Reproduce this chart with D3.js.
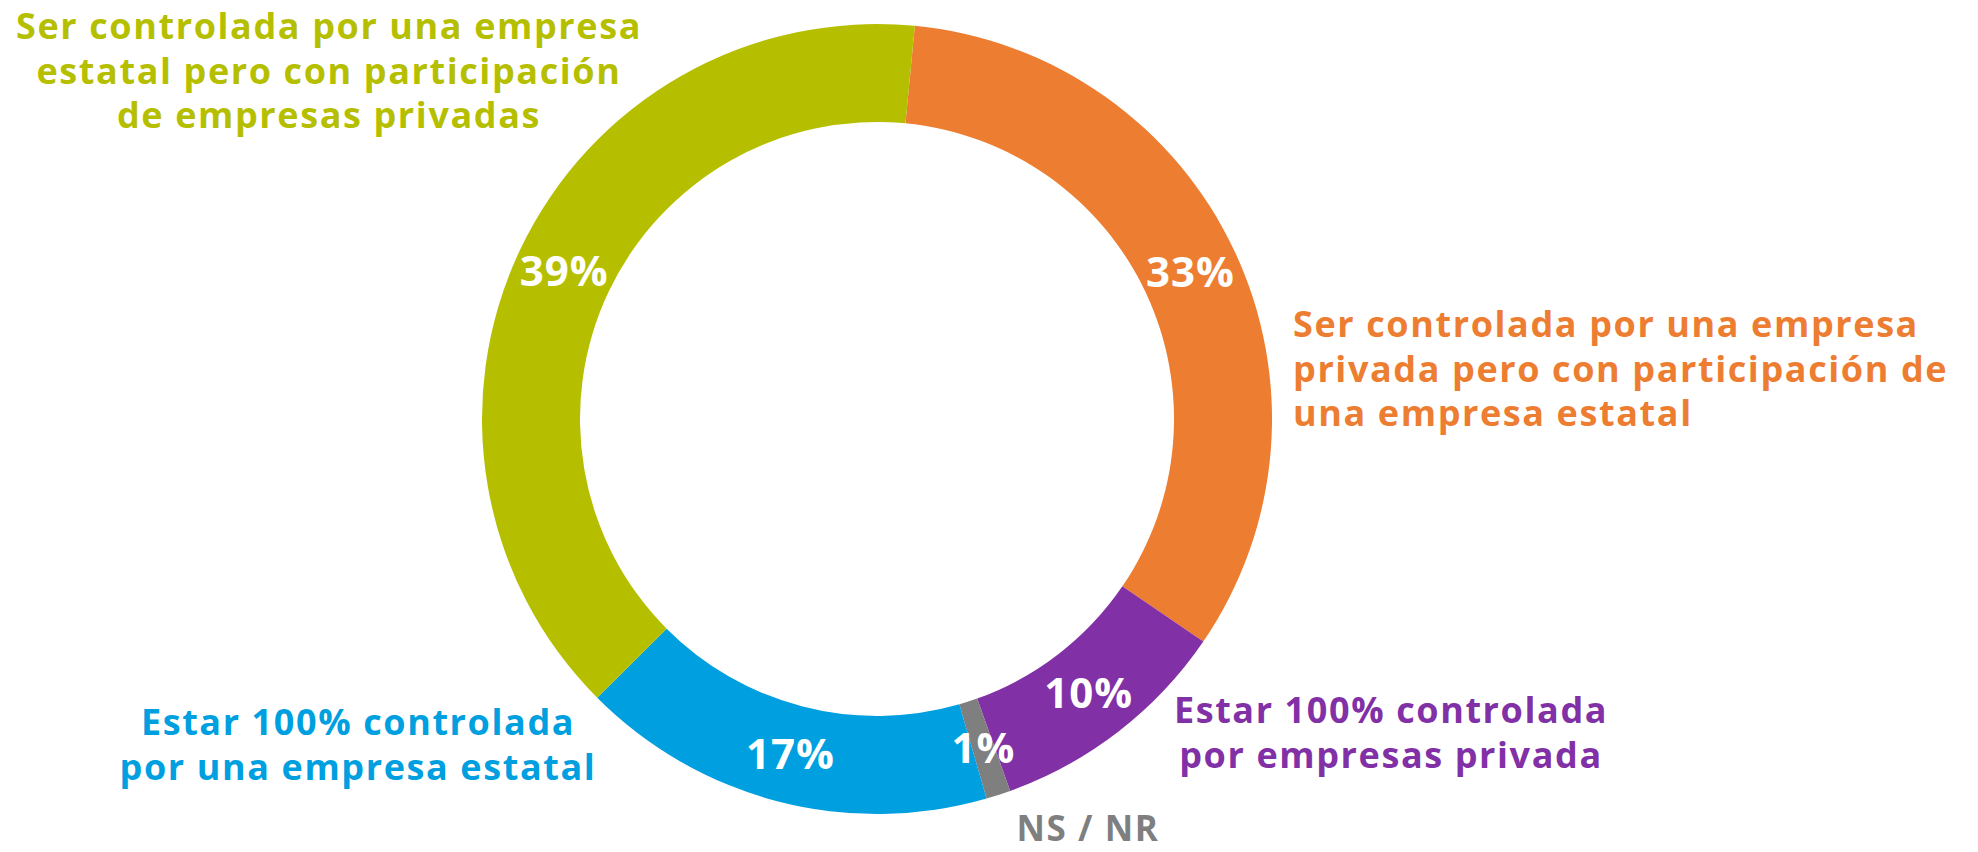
<!DOCTYPE html>
<html lang="es">
  <head>
    <meta charset="utf-8">
    <title>Donut</title>
    <style>
      body { margin: 0; background: #fff; }
      text { font-family: "Open Sans", sans-serif; font-weight: 700; }
    </style>
  </head>
  <body>
    <svg id="chart" width="1978" height="852"></svg>
    <script src="https://cdn.jsdelivr.net/npm/d3@7"></script>
    <script>
    // slices, clockwise from just right of the top
    var categories = [
      "Ser controlada por una empresa privada pero con participación de una empresa estatal",
      "Estar 100% controlada por empresas privada",
      "NS / NR",
      "Estar 100% controlada por una empresa estatal",
      "Ser controlada por una empresa estatal pero con participación de empresas privadas"
    ];
    var values = [33, 10, 1, 17, 39];
    var colors = ["#ED7D31", "#8130A6", "#7F7F7F", "#009FDF", "#B5BF00"];
    var labelLines = [
      ["Ser controlada por una empresa", "privada pero con participación de", "una empresa estatal"],
      ["Estar 100% controlada", "por empresas privada"],
      ["NS / NR"],
      ["Estar 100% controlada", "por una empresa estatal"],
      ["Ser controlada por una empresa", "estatal pero con participación", "de empresas privadas"]
    ];

    // where each category label sits
    var labelPos = [
      {x: 1293, y: 337, anchor: "start", size: 36},
      {x: 1391, y: 723, anchor: "middle", size: 36},
      {x: 1088, y: 841, anchor: "middle", size: 35},
      {x: 358, y: 735, anchor: "middle", size: 36},
      {x: 329, y: 39, anchor: "middle", size: 36}
    ];

    var svg = d3.select("#chart");
    var cx = 877, cy = 419;
    var outerR = 395, innerR = 297;
    var lineH = 44.5;
    var start = 5.5 * Math.PI / 180;

    var pie = d3.pie().sort(null).startAngle(start).endAngle(start + 2 * Math.PI);
    var arc = d3.arc().innerRadius(innerR).outerRadius(outerR);
    var arcs = pie(values);

    var g = svg.append("g").attr("transform", "translate(" + cx + "," + cy + ")");

    g.selectAll("path").data(arcs).enter().append("path")
      .attr("d", arc)
      .attr("fill", function(d, i) { return colors[i]; });

    g.selectAll("text.pct").data(arcs).enter().append("text")
      .attr("class", "pct")
      .attr("transform", function(d) { return "translate(" + arc.centroid(d) + ")"; })
      .attr("text-anchor", "middle")
      .attr("dy", "0.36em")
      .attr("fill", "#fff")
      .style("font-size", "42px")
      .style("letter-spacing", "1px")
      .text(function(d) { return d.value + "%"; });

    var lab = svg.selectAll("text.cat").data(categories).enter().append("text")
      .attr("class", "cat")
      .attr("text-anchor", function(d, i) { return labelPos[i].anchor; })
      .attr("fill", function(d, i) { return colors[i]; })
      .style("font-size", function(d, i) { return labelPos[i].size + "px"; })
      .style("letter-spacing", "1.6px");

    lab.each(function(d, i) {
      var t = d3.select(this);
      labelLines[i].forEach(function(line, j) {
        t.append("tspan")
          .attr("x", labelPos[i].x)
          .attr("y", labelPos[i].y + j * lineH)
          .text(line);
      });
    });
    </script>
  </body>
</html>
